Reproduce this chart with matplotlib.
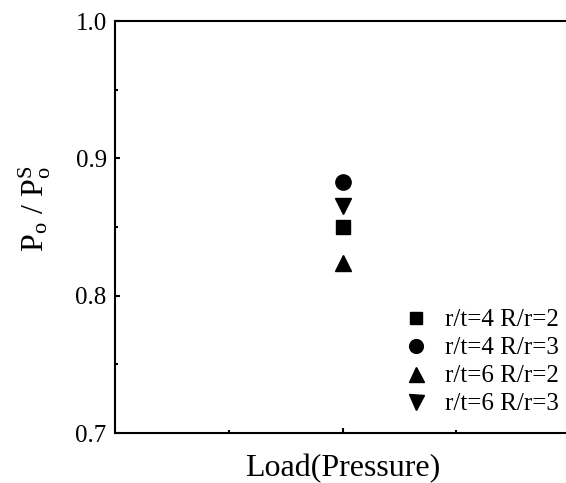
import matplotlib

matplotlib.use("Agg")
import matplotlib.pyplot as plt
from matplotlib.ticker import FixedLocator, NullFormatter

plt.rcParams["font.family"] = ["Liberation Serif", "DejaVu Serif"]
plt.rcParams["mathtext.fontset"] = "custom"
plt.rcParams["mathtext.rm"] = "Liberation Serif"
plt.rcParams["mathtext.it"] = "Liberation Serif"

# data: one load case, four geometries
labels = ["r/t=4 R/r=2", "r/t=4 R/r=3", "r/t=6 R/r=2", "r/t=6 R/r=3"]
markers = ["s", "o", "^", "v"]
sizes = [10, 11, 12, 12]
x_load = [1.0, 1.0, 1.0, 1.0]
ratio = [0.850, 0.883, 0.8235, 0.865]

y_major = [0.7, 0.8, 0.9, 1.0]
y_minor = [0.75, 0.85, 0.95]

fig = plt.figure(figsize=(5.66, 4.83), dpi=100)
ax = fig.add_axes([115 / 566, 50 / 483, 455 / 566, 412 / 483])

for xv, yv, m, s, lab in zip(x_load, ratio, markers, sizes, labels):
    ax.plot(xv, yv, linestyle="none", marker=m, markersize=s, color="black", label=lab)

ax.set_xlim(0, 2)
ax.set_ylim(0.7, 1.0)
ax.xaxis.set_major_locator(FixedLocator([1.0]))
ax.xaxis.set_minor_locator(FixedLocator([0.5, 1.5]))
ax.xaxis.set_major_formatter(NullFormatter())
ax.yaxis.set_major_locator(FixedLocator(y_major))
ax.yaxis.set_minor_locator(FixedLocator(y_minor))
ax.set_yticklabels([f"{v:.1f}" for v in y_major])

for side in ax.spines.values():
    side.set_linewidth(1.5)
ax.tick_params(which="both", direction="in", width=1.5, labelsize=18, pad=6)
ax.tick_params(which="major", length=3.6)
ax.tick_params(which="minor", length=2.2)

ax.set_xlabel("Load(Pressure)", fontsize=23, labelpad=9)
ax.set_ylabel(r"$\mathregular{P_o\ /\ P_o^S}$", fontsize=23)
ax.yaxis.set_label_coords(-0.136, 0.544)

ax.legend(
    loc="upper left",
    bbox_to_anchor=(403.5 / 566, (483 - 309) / 483),
    bbox_transform=fig.transFigure,
    frameon=False,
    fontsize=18,
    handlelength=1.0,
    handletextpad=0.66,
    labelspacing=0.22,
    borderpad=0,
    borderaxespad=0,
    markerscale=0.9,
)

fig.savefig("out.png", dpi=100)
